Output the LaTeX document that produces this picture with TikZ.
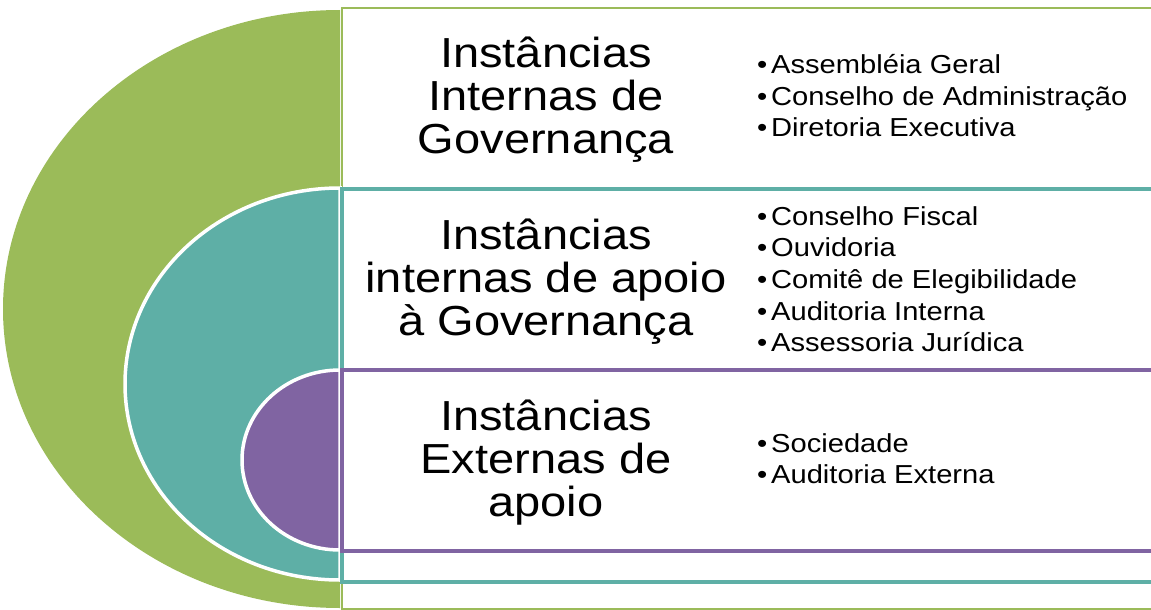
\documentclass[tikz,border=0pt]{standalone}
\usepackage{fontspec}
\setmainfont{Liberation Sans}[FakeStretch=1.12]
\definecolor{cgreen}{HTML}{9BBB59}
\definecolor{cteal}{HTML}{5EAFA6}
\definecolor{cpurple}{HTML}{8064A2}
\tikzset{
  title/.style={anchor=base, inner sep=0pt, font=\fontsize{42}{44}\selectfont},
  item/.style={anchor=base west, inner sep=0pt, font=\fontsize{26}{31}\selectfont},
  halo/.style={draw=white, line width=3.5pt},
  panel/.style={draw=#1, fill=white, line width=4pt},
}
\newcommand{\bul}[1]{\makebox[14pt][l]{•}#1}
\begin{document}
\begin{tikzpicture}[x=1pt,y=-1pt]
\useasboundingbox (0,0) rectangle (1151,610);
\clip (0,0) rectangle (1151,610);
% green level
\fill[cgreen] (340,10) arc[start angle=270, end angle=90, x radius=337, y radius=299] -- cycle;
\draw[panel=cgreen, line width=2.5pt] (342,8) rectangle (1170,609.5);
% teal level
\fill[cteal, halo] (340,188) arc[start angle=270, end angle=90, x radius=215, y radius=196] -- cycle;
\draw[panel=cteal] (342,188.5) rectangle (1170,581.5);
% purple level
\fill[cpurple, halo] (340,370) arc[start angle=270, end angle=90, x radius=98, y radius=90] -- cycle;
\draw[panel=cpurple] (342,370) rectangle (1170,551);

% titles
\node[title] (t1a) at (546,67.5) {Instâncias};
\node[title] (t1b) at (546,110.5) {Internas de};
\node[title] (t1c) at (546,153.5) {Governança};
\node[title] (t2a) at (546,249.5) {Instâncias};
\node[title] (t2b) at (546,292.5) {internas de apoio};
\node[title] (t2c) at (546,335.5) {à Governança};
\node[title] (t3a) at (546,430.5) {Instâncias};
\node[title] (t3b) at (546,473.5) {Externas de};
\node[title] (t3c) at (546,516.5) {apoio};

% items
\node[item] (g1) at (757,73.3) {\bul{Assembléia Geral}};
\node[item] (g2) at (757,105) {\bul{Conselho de Administração}};
\node[item] (g3) at (757,136.7) {\bul{Diretoria Executiva}};
\node[item] (a1) at (757,225) {\bul{Conselho Fiscal}};
\node[item] (a2) at (757,256.7) {\bul{Ouvidoria}};
\node[item] (a3) at (757,288.4) {\bul{Comitê de Elegibilidade}};
\node[item] (a4) at (757,320.1) {\bul{Auditoria Interna}};
\node[item] (a5) at (757,351.8) {\bul{Assessoria Jurídica}};
\node[item] (e1) at (757,452) {\bul{Sociedade}};
\node[item] (e2) at (757,483.7) {\bul{Auditoria Externa}};
\end{tikzpicture}
\end{document}
